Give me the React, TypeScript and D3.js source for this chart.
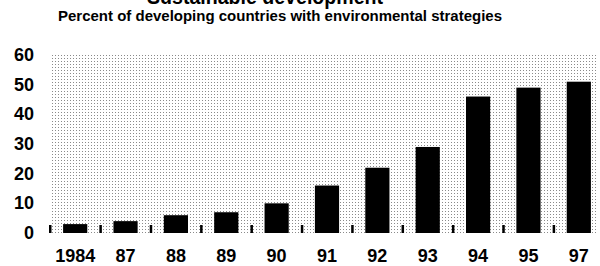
import React, { useRef, useEffect } from 'react';
import * as d3 from 'd3';

// Chart data
const years = ['1984', '87', '88', '89', '90', '91', '92', '93', '94', '95', '97'];
const percents = [3, 4, 6, 7, 10, 16, 22, 29, 46, 49, 51];
const yTicks = [0, 10, 20, 30, 40, 50, 60];

const FONT = '"Liberation Sans Narrow", "Liberation Sans", Arial, sans-serif';

function App() {
  const svgRef = useRef<SVGSVGElement | null>(null);

  useEffect(() => {
    const width = 600;
    const height = 266;

    const svg = d3.select(svgRef.current)
      .attr('width', width)
      .attr('height', height)
      .attr('viewBox', `0 0 ${width} ${height}`);

    svg.selectAll('*').remove();

    // dotted halftone texture for the plot background
    const defs = svg.append('defs');
    const pat = defs.append('pattern')
      .attr('id', 'dots')
      .attr('width', 3)
      .attr('height', 3)
      .attr('patternUnits', 'userSpaceOnUse');
    pat.append('rect').attr('width', 3).attr('height', 3).attr('fill', '#fff');
    pat.append('rect').attr('x', 1).attr('y', 1).attr('width', 1).attr('height', 1).attr('fill', '#8a8a8a');

    const xScale = d3.scaleBand()
      .domain(years)
      .range([50, 604])
      .paddingInner(0.52)
      .paddingOuter(0.26);

    const yScale = d3.scaleLinear()
      .domain([0, 60])
      .range([233, 55]);

    // title (mostly cut off at the top) and subtitle
    svg.append('text')
      .attr('x', 265)
      .attr('y', 4)
      .attr('text-anchor', 'middle')
      .attr('font-family', FONT)
      .attr('font-weight', 'bold')
      .attr('font-size', 22)
      .attr('textLength', 236)
      .attr('lengthAdjust', 'spacingAndGlyphs')
      .text('Sustainable development');

    svg.append('text')
      .attr('x', 280)
      .attr('y', 21)
      .attr('text-anchor', 'middle')
      .attr('font-family', FONT)
      .attr('font-weight', 'bold')
      .attr('font-size', 15)
      .attr('textLength', 444)
      .attr('lengthAdjust', 'spacingAndGlyphs')
      .text('Percent of developing countries with environmental strategies');

    // plot background
    svg.append('rect')
      .attr('x', 50)
      .attr('y', yScale(60))
      .attr('width', 546)
      .attr('height', yScale(0) - yScale(60))
      .attr('fill', 'url(#dots)');

    // y labels
    svg.append('g')
      .selectAll('text')
      .data(yTicks)
      .enter()
      .append('text')
      .attr('x', 34)
      .attr('y', d => yScale(d) + 6)
      .attr('text-anchor', 'end')
      .attr('font-family', FONT)
      .attr('font-weight', 'bold')
      .attr('font-size', 18)
      .text(d => d);

    // bars
    svg.append('g')
      .selectAll('rect')
      .data(percents)
      .enter()
      .append('rect')
      .attr('x', (d, i) => xScale(years[i])!)
      .attr('y', d => yScale(d))
      .attr('width', xScale.bandwidth())
      .attr('height', d => yScale(0) - yScale(d))
      .attr('fill', '#000');

    // small tick marks between bars
    const step = xScale.step();
    svg.append('g')
      .selectAll('rect')
      .data(years)
      .enter()
      .append('rect')
      .attr('x', d => xScale(d)! + xScale.bandwidth() / 2 - step / 2 - 1)
      .attr('y', yScale(0) - 8)
      .attr('width', 2.5)
      .attr('height', 8)
      .attr('fill', '#000');

    // x labels
    svg.append('g')
      .selectAll('text')
      .data(years)
      .enter()
      .append('text')
      .attr('x', d => xScale(d)! + xScale.bandwidth() / 2)
      .attr('y', 262)
      .attr('text-anchor', 'middle')
      .attr('font-family', FONT)
      .attr('font-weight', 'bold')
      .attr('font-size', 18)
      .text(d => d);
  }, []);

  return (
    <svg ref={svgRef} style={{ position: 'absolute', left: 0, top: 0, background: '#fff' }}></svg>
  );
}

export default App;
